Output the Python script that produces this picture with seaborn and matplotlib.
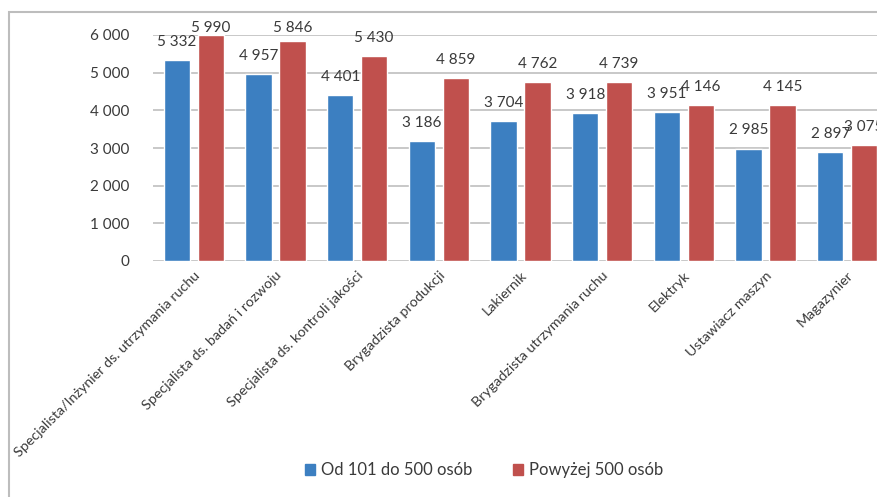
import matplotlib
matplotlib.use("Agg")
import matplotlib.pyplot as plt
import matplotlib.patches as mpatches
from matplotlib.ticker import FuncFormatter
import seaborn as sns
import pandas as pd

categories = [
    "Specjalista/Inżynier ds. utrzymania ruchu",
    "Specjalista ds. badań i rozwoju",
    "Specjalista ds. kontroli jakości",
    "Brygadzista produkcji",
    "Lakiernik",
    "Brygadzista utrzymania ruchu",
    "Elektryk",
    "Ustawiacz maszyn",
    "Magazynier",
]
series_names = ["Od 101 do 500 osób", "Powyżej 500 osób"]
mid_size = [5332, 4957, 4401, 3186, 3704, 3918, 3951, 2985, 2897]
large_size = [5990, 5846, 5430, 4859, 4762, 4739, 4146, 4145, 3075]
y_ticks = [0, 1000, 2000, 3000, 4000, 5000, 6000]

colors = ["#3C7FC1", "#C0504D"]
text_color = "#3A3A3A"
grid_color = "#C4C4C4"

df = pd.DataFrame({
    "stanowisko": categories * 2,
    "grupa": [series_names[0]] * len(categories) + [series_names[1]] * len(categories),
    "wartosc": mid_size + large_size,
})

sns.set_theme(style="white")
plt.rcParams["font.family"] = ["Lato", "DejaVu Sans"]

fig = plt.figure(figsize=(8.78, 4.97), dpi=100)
ax = fig.add_axes([153 / 878, 1 - 261 / 497, 735 / 878, 226 / 497])

sns.barplot(
    data=df, x="stanowisko", y="wartosc", hue="grupa",
    order=categories, hue_order=series_names, palette=colors,
    width=0.83, gap=0.22, saturation=1, ax=ax, legend=False,
)

def fmt(v, _=None):
    return f"{int(round(v)):,}".replace(",", " ")

y_max = 6000
ax.set_ylim(0, y_max)
ax.set_xlim(-0.5, len(categories) - 0.5)
ax.set_yticks(y_ticks)
ax.yaxis.set_major_formatter(FuncFormatter(fmt))
ax.grid(axis="y", color=grid_color, linewidth=1.3)
ax.set_axisbelow(True)
for s in ax.spines.values():
    s.set_visible(False)
ax.tick_params(axis="y", length=0, pad=17, labelsize=11, labelcolor=text_color)
ax.tick_params(axis="x", length=0, pad=6, labelsize=10.3, labelcolor=text_color)
plt.setp(ax.get_xticklabels(), rotation=45, ha="right", rotation_mode="anchor")
ax.set_xlabel("")
ax.set_ylabel("")

# value labels above each bar, kept just above the plot top when they would overflow
for container in ax.containers:
    for bar in container:
        h = bar.get_height()
        y = min(h + 480, y_max + 185)
        ax.text(bar.get_x() + bar.get_width() / 2, y, fmt(h), ha="center",
                va="center", fontsize=11, color=text_color, clip_on=False)

handles = [mpatches.Patch(color=c, label=n) for c, n in zip(colors, series_names)]
fig.legend(handles=handles, loc="center", bbox_to_anchor=(484 / 878, 1 - 470 / 497),
           ncol=2, frameon=False, fontsize=12, handlelength=0.65, handleheight=0.65,
           handletextpad=0.35, columnspacing=2.4, labelcolor=text_color)

frame = mpatches.Rectangle((9.5 / 878, -0.05), 1.2, 1 - 11.5 / 497 + 0.05,
                           transform=fig.transFigure, fill=False,
                           edgecolor="#BDBDBD", linewidth=1.5, clip_on=False)
fig.patches.append(frame)

fig.savefig("out.png", dpi=100)
